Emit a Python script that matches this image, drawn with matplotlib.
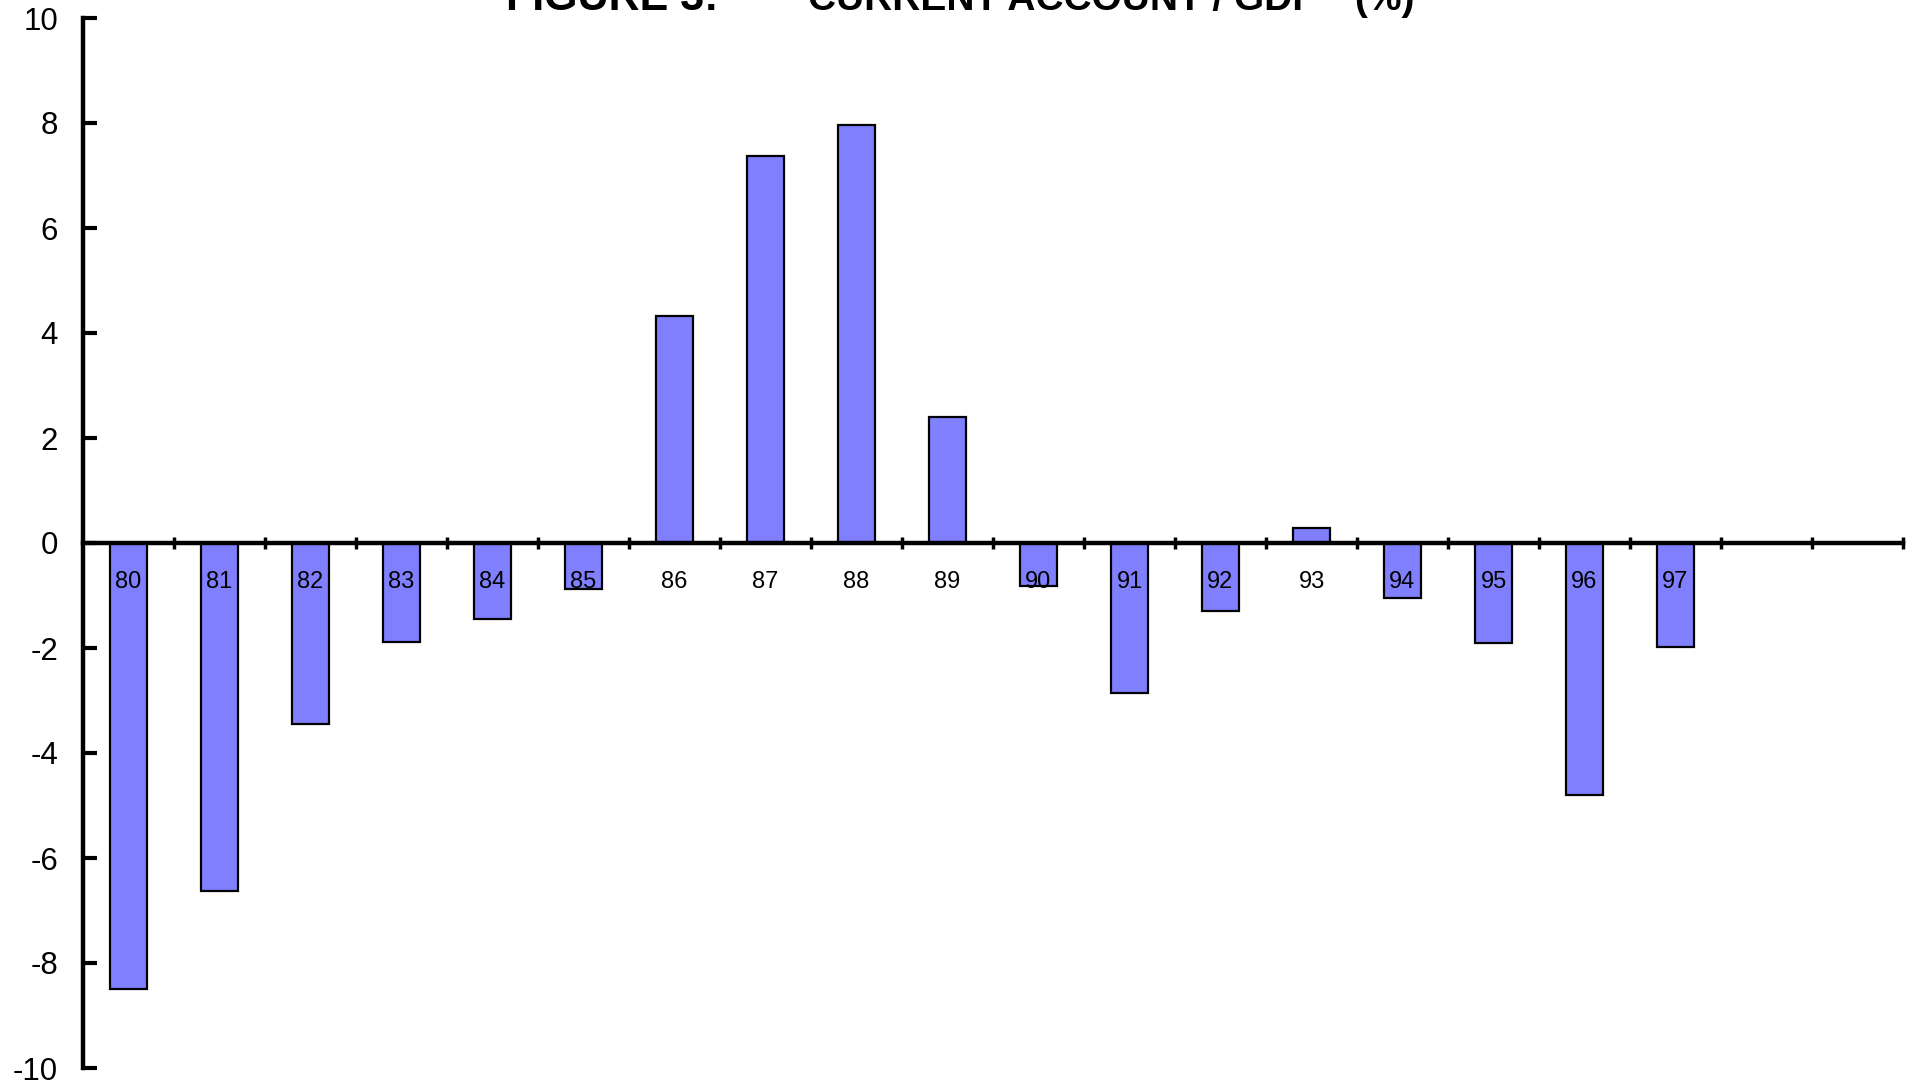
import matplotlib.pyplot as plt

years = ["80", "81", "82", "83", "84", "85", "86", "87", "88", "89",
         "90", "91", "92", "93", "94", "95", "96", "97"]
ca_gdp = [-8.5, -6.62, -3.45, -1.88, -1.45, -0.88, 4.32, 7.37, 7.96, 2.4,
          -0.82, -2.86, -1.3, 0.29, -1.05, -1.9, -4.8, -1.98]
n_slots = 20  # axis runs on for two empty years after 97
yticks = [-10, -8, -6, -4, -2, 0, 2, 4, 6, 8, 10]

plt.rcParams['font.family'] = ['Liberation Sans', 'DejaVu Sans']

fig = plt.figure(figsize=(19.18, 10.88), dpi=100)
ax = fig.add_axes([83/1918, 1 - 1068/1088, (1903-83)/1918, 1050/1088])

x = list(range(len(years)))
ax.bar(x, ca_gdp, width=0.4, color='#8080ff', edgecolor='black', linewidth=1.6, zorder=2)

for xi, lab in zip(x, years):
    ax.text(xi, -0.74, lab, ha='center', va='center', fontsize=17, zorder=3)

ax.set_xlim(-0.5, n_slots - 0.5)
ax.set_ylim(-10, 10)
ax.set_yticks(yticks)
ax.set_yticklabels([str(v) for v in yticks], fontsize=22.5)
ax.set_xticks([i + 0.5 for i in range(n_slots)])
ax.set_xticklabels([])

ax.spines['top'].set_visible(False)
ax.spines['right'].set_visible(False)
ax.spines['bottom'].set_position(('data', 0))
ax.spines['left'].set_linewidth(3.2)
ax.spines['bottom'].set_linewidth(3.2)
ax.spines['bottom'].set_zorder(4)
ax.tick_params(axis='y', direction='in', length=10, width=3, pad=18)
ax.tick_params(axis='x', direction='inout', length=8, width=2.5)

# title is clipped by the top edge, as in the original
fig.text(506/1918, 1 - 10/1088, "FIGURE 3:", fontsize=31, fontweight='bold', va='baseline', ha='left')
fig.text(808/1918, 1 - 10/1088, "CURRENT ACCOUNT / GDP", fontsize=28, fontweight='bold', va='baseline', ha='left')
fig.text(1354/1918, 1 - 10/1088, "(%)", fontsize=28, fontweight='bold', va='baseline', ha='left')

fig.savefig('out.png', dpi=100)
